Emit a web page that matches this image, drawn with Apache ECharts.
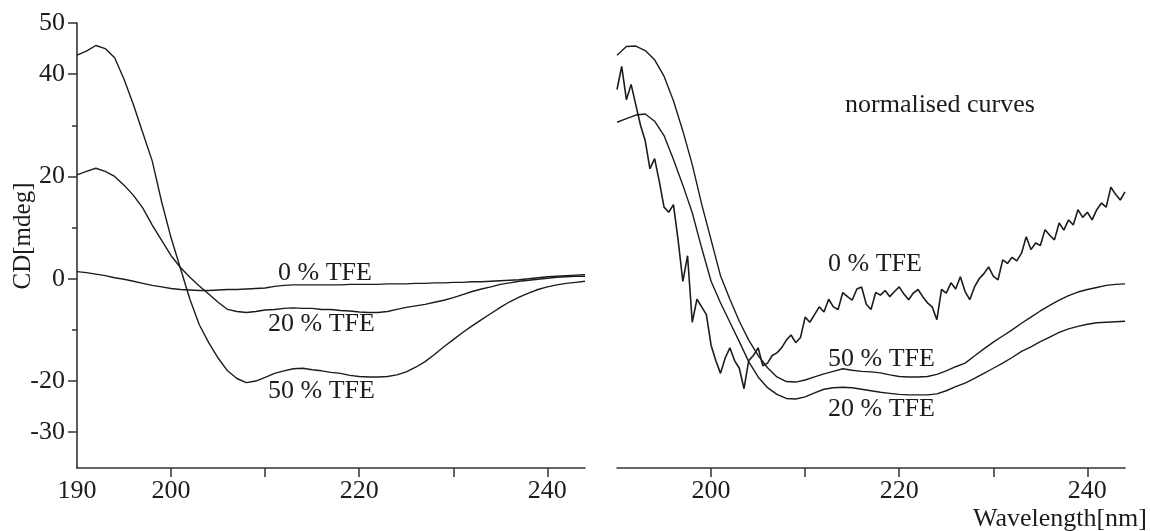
<!DOCTYPE html>
<html>
<head>
<meta charset="utf-8">
<script src="https://cdn.jsdelivr.net/npm/echarts@6/dist/echarts.min.js"></script>
<style>
html, body { margin: 0; padding: 0; background: #fff; }
#chart { width: 1150px; height: 531px; }
</style>
</head>
<body>
<div id="chart"></div>
<script>
var chart = echarts.init(document.getElementById('chart'));

// wavelength grid, 1 nm
var wl = [190, 191, 192, 193, 194, 195, 196, 197, 198, 199,
	200, 201, 202, 203, 204, 205, 206, 207, 208, 209,
	210, 211, 212, 213, 214, 215, 216, 217, 218, 219,
	220, 221, 222, 223, 224, 225, 226, 227, 228, 229,
	230, 231, 232, 233, 234, 235, 236, 237, 238, 239,
	240, 241, 242, 243, 244];

// wavelength grid, 0.5 nm (noisy normalised 0 % curve)
var wlFine = [190, 190.5, 191, 191.5, 192, 192.5, 193, 193.5, 194, 194.5,
	195, 195.5, 196, 196.5, 197, 197.5, 198, 198.5, 199, 199.5,
	200, 200.5, 201, 201.5, 202, 202.5, 203, 203.5, 204, 204.5,
	205, 205.5, 206, 206.5, 207, 207.5, 208, 208.5, 209, 209.5,
	210, 210.5, 211, 211.5, 212, 212.5, 213, 213.5, 214, 214.5,
	215, 215.5, 216, 216.5, 217, 217.5, 218, 218.5, 219, 219.5,
	220, 220.5, 221, 221.5, 222, 222.5, 223, 223.5, 224, 224.5,
	225, 225.5, 226, 226.5, 227, 227.5, 228, 228.5, 229, 229.5,
	230, 230.5, 231, 231.5, 232, 232.5, 233, 233.5, 234, 234.5,
	235, 235.5, 236, 236.5, 237, 237.5, 238, 238.5, 239, 239.5,
	240, 240.5, 241, 241.5, 242, 242.5, 243, 243.5, 244];

// left panel, CD [mdeg]
var cd0 = [1.4, 1.2, 0.9, 0.6, 0.2, -0.1, -0.5, -0.9, -1.3, -1.6,
	-1.9, -2.1, -2.2, -2.3, -2.3, -2.2, -2.1, -2.1, -2.0, -1.9,
	-1.8, -1.5, -1.3, -1.2, -1.2, -1.2, -1.2, -1.2, -1.2, -1.1,
	-1.1, -1.1, -1.1, -1.0, -1.0, -1.0, -0.9, -0.9, -0.8, -0.8,
	-0.7, -0.7, -0.6, -0.6, -0.5, -0.4, -0.3, -0.2, 0.0, 0.2,
	0.4, 0.5, 0.6, 0.7, 0.8];
var cd20 = [20.3, 21.0, 21.6, 21.0, 20.0, 18.3, 16.3, 13.8, 10.5, 7.5,
	4.5, 2.2, 0.3, -1.4, -3.0, -4.6, -6.0, -6.4, -6.6, -6.4,
	-6.1, -6.0, -5.8, -5.7, -5.8, -5.8, -6.0, -6.0, -6.2, -6.3,
	-6.5, -6.6, -6.6, -6.4, -6.0, -5.6, -5.3, -5.0, -4.6, -4.2,
	-3.7, -3.1, -2.5, -2.0, -1.6, -1.1, -0.8, -0.5, -0.3, -0.1,
	0.1, 0.3, 0.4, 0.5, 0.5];
var cd50 = [43.7, 44.5, 45.6, 45.0, 43.2, 39.0, 34.0, 28.5, 23.0, 15.0,
	8.0, 2.0, -4.0, -9.0, -12.5, -15.5, -18.0, -19.5, -20.3, -20.0,
	-19.3, -18.5, -18.0, -17.6, -17.5, -17.8, -18.0, -18.3, -18.5, -18.9,
	-19.1, -19.2, -19.2, -19.1, -18.8, -18.2, -17.3, -16.2, -14.8, -13.3,
	-11.9, -10.5, -9.2, -8.0, -6.8, -5.6, -4.5, -3.6, -2.8, -2.1,
	-1.6, -1.2, -0.9, -0.7, -0.5];

// right panel, normalised curves
var norm0 = [37, 41.5, 35, 38, 34, 30, 27, 21.5, 23.5, 19,
	14, 13, 14.5, 7.5, -0.5, 4.5, -8.5, -4, -5.5, -7,
	-13, -16, -18.5, -15.5, -13.5, -16, -17.5, -21.5, -16, -15,
	-13.5, -17, -16.5, -15, -14.5, -13.5, -12, -11, -12.5, -11.5,
	-7.5, -8.5, -7, -5.5, -6.5, -4, -5.5, -6, -2.7, -3.5,
	-4.2, -2, -1.6, -5, -6, -2.7, -3.2, -2.3, -3.5, -2.5,
	-1.6, -3, -4.1, -2.8, -2.1, -3.5, -4.7, -5.5, -8, -2.1,
	-2.8, -0.8, -2, 0.4, -2.5, -4.1, -1.6, 0, 1, 2.3,
	0.5, -0.2, 3.7, 3, 4.2, 3.5, 5, 8.2, 5.7, 7,
	6.5, 9.6, 8.5, 7.6, 10.9, 9.5, 11.5, 10.5, 13.5, 12,
	13, 11.5, 13.5, 14.8, 14, 17.9, 16.5, 15.4, 17];
var norm20 = [30.6, 31.3, 32.0, 32.2, 30.8, 28.0, 23.3, 18.3, 12.9, 6.0,
	-0.5, -4.7, -8.5, -12.3, -16.2, -19.2, -21.3, -22.6, -23.4, -23.5,
	-23.1, -22.3, -21.6, -21.3, -21.2, -21.3, -21.6, -21.9, -22.2, -22.4,
	-22.6, -22.7, -22.7, -22.7, -22.5, -21.9, -21.1, -20.4, -19.5, -18.5,
	-17.5, -16.5, -15.4, -14.2, -13.3, -12.3, -11.4, -10.5, -9.8, -9.3,
	-8.9, -8.6, -8.5, -8.4, -8.3];
var norm50 = [43.7, 45.4, 45.5, 44.6, 42.8, 39.6, 34.8, 28.9, 22.3, 14.6,
	7.6, 0.6, -4.0, -8.3, -12.0, -15.0, -17.4, -19.2, -20.1, -20.2,
	-19.8, -19.2, -18.6, -18.1, -17.6, -17.9, -18.1, -18.2, -18.4, -18.8,
	-19.1, -19.2, -19.2, -19.1, -18.7, -18.0, -17.2, -16.5, -15.1, -13.7,
	-12.4, -11.2, -10.0, -8.7, -7.5, -6.3, -5.2, -4.2, -3.3, -2.6,
	-2.1, -1.7, -1.3, -1.1, -1.0];

// ticks and tick labels
var yMajor = [50, 40, 20, 0, -20, -30];
var yMinor = [30, 10, -10];
var xTicks = [200, 210, 220, 230, 240];
var xLabelsLeft = [190, 200, 220, 240];
var xLabelsRight = [200, 220, 240];

function pairs(xs, ys) {
	var out = [];
	for (var i = 0; i < xs.length; i++) out.push([xs[i], ys[i]]);
	return out;
}

var ink = '#1c1c1c';
var serif = '"Liberation Serif", "DejaVu Serif", serif';
var lineCol = '#333';

function xAxis(grid, labels) {
	return {
		type: 'value', gridIndex: grid, min: 190, max: 244, position: 'bottom',
		axisLine: { onZero: false, lineStyle: { color: lineCol, width: 1.6 } },
		axisTick: { customValues: xTicks, length: 9, lineStyle: { color: lineCol, width: 1.5 } },
		axisLabel: { customValues: labels, color: ink, fontFamily: serif, fontSize: 26, margin: 10 },
		splitLine: { show: false }
	};
}

function yAxisLeft(ticks, len, withLine, labels) {
	return {
		type: 'value', gridIndex: 0, min: -37, max: 50, position: 'left',
		axisLine: { show: withLine, onZero: false, lineStyle: { color: lineCol, width: 1.6 } },
		axisTick: { show: true, customValues: ticks, length: len, lineStyle: { color: lineCol, width: 1.5 } },
		axisLabel: labels ? { customValues: labels, color: ink, fontFamily: serif, fontSize: 26, margin: 12 } : { show: false },
		splitLine: { show: false }
	};
}

function line(xi, yi, xs, ys, w) {
	return {
		type: 'line', xAxisIndex: xi, yAxisIndex: yi,
		data: pairs(xs, ys), showSymbol: false, symbol: 'none',
		lineStyle: { color: ink, width: w || 1.4 },
		silent: true
	};
}

function label(text, x, y) {
	return {
		type: 'text', x: x, y: y,
		style: { text: text, fill: ink, font: '26px ' + serif, textAlign: 'left', textVerticalAlign: 'middle' }
	};
}

var option = {
	animation: false,
	backgroundColor: '#fff',
	grid: [
		{ left: 77, top: 23, width: 508, height: 445 },
		{ left: 617, top: 23, width: 508, height: 445 }
	],
	xAxis: [xAxis(0, xLabelsLeft), xAxis(1, xLabelsRight)],
	yAxis: [
		yAxisLeft(yMajor, 9, true, yMajor),
		yAxisLeft(yMinor, 5, false, null),
		{ type: 'value', gridIndex: 1, min: -37, max: 50, show: false }
	],
	graphic: [
		{
			type: 'text', x: 23, y: 236, rotation: Math.PI / 2,
			style: { text: 'CD[mdeg]', fill: ink, font: '25px ' + serif, textAlign: 'center', textVerticalAlign: 'middle' }
		},
		{
			type: 'text', x: 1147, y: 519,
			style: { text: 'Wavelength[nm]', fill: ink, font: '26px ' + serif, textAlign: 'right', textVerticalAlign: 'middle' }
		},
		label('normalised curves', 845, 105),
		label('0 % TFE', 278, 273),
		label('20 % TFE', 268, 324),
		label('50 % TFE', 268, 391),
		label('0 % TFE', 828, 264),
		label('50 % TFE', 828, 359),
		label('20 % TFE', 828, 409)
	],
	series: [
		line(0, 0, wl, cd0),
		line(0, 0, wl, cd20),
		line(0, 0, wl, cd50),
		line(1, 2, wlFine, norm0, 1.6),
		line(1, 2, wl, norm20),
		line(1, 2, wl, norm50)
	]
};

chart.setOption(option);
</script>
</body>
</html>
